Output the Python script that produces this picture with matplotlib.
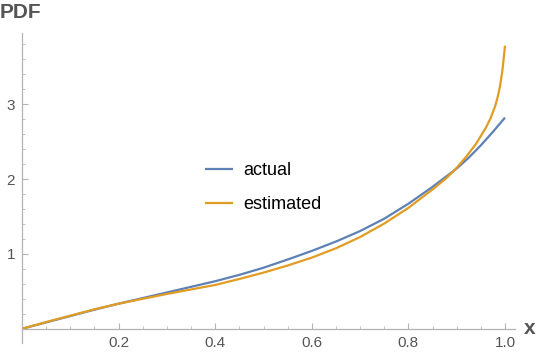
import numpy as np
import matplotlib.pyplot as plt
from matplotlib.ticker import MultipleLocator, FixedLocator

# values
x_actual = [0, 0.05, 0.1, 0.15, 0.2, 0.25, 0.3, 0.35, 0.4, 0.45, 0.5, 0.55, 0.6,
            0.65, 0.7, 0.75, 0.8, 0.85, 0.9, 0.925, 0.95, 0.975, 1.0]
pdf_actual = [0, 0.085, 0.17, 0.255, 0.335, 0.41, 0.485, 0.56, 0.635, 0.72, 0.815,
              0.925, 1.04, 1.165, 1.305, 1.47, 1.67, 1.895, 2.14, 2.285, 2.45, 2.63, 2.82]

x_est = [0, 0.05, 0.1, 0.15, 0.2, 0.25, 0.3, 0.35, 0.4, 0.45, 0.5, 0.55, 0.6, 0.65,
         0.7, 0.75, 0.8, 0.85, 0.88, 0.9, 0.92, 0.94, 0.96, 0.97, 0.98, 0.985, 0.99,
         0.995, 1.0]
pdf_est = [0, 0.09, 0.175, 0.26, 0.335, 0.40, 0.465, 0.525, 0.585, 0.665, 0.75, 0.845,
           0.95, 1.075, 1.225, 1.405, 1.615, 1.86, 2.02, 2.15, 2.30, 2.47, 2.68, 2.81,
           2.98, 3.10, 3.25, 3.47, 3.78]

x_ticks = [0.2, 0.4, 0.6, 0.8, 1.0]
x_tick_labels = ['0.2', '0.4', '0.6', '0.8', '1.0']
y_ticks = [1, 2, 3]
y_tick_labels = ['1', '2', '3']

blue = '#5E81B5'
orange = '#E19C24'
gray = '#b3b3b3'
text_gray = '#555555'

plt.rcParams['font.family'] = ['Liberation Sans', 'DejaVu Sans']

fig = plt.figure(figsize=(5.4, 3.53), dpi=100)
ax = fig.add_axes([22 / 540, 1 - 343 / 353, (1.02 * 483) / 540, (343 - 33) / 353])

ax.plot(x_actual, pdf_actual, color=blue, lw=1.6, label='actual',
        solid_capstyle='butt', solid_joinstyle='round')
ax.plot(x_est, pdf_est, color=orange, lw=1.6, label='estimated',
        solid_capstyle='butt', solid_joinstyle='round')

ax.set_xlim(0, 1.02)
ax.set_ylim(-0.19, 3.95)

for s in ['top', 'right']:
    ax.spines[s].set_visible(False)
ax.spines['left'].set_position(('data', 0))
ax.spines['bottom'].set_position(('data', 0))
for s in ['left', 'bottom']:
    ax.spines[s].set_color(gray)
    ax.spines[s].set_linewidth(0.9)

ax.xaxis.set_major_locator(FixedLocator(x_ticks))
ax.set_xticklabels(x_tick_labels)
ax.xaxis.set_minor_locator(MultipleLocator(0.05))
ax.yaxis.set_major_locator(FixedLocator(y_ticks))
ax.set_yticklabels(y_tick_labels)
ax.yaxis.set_minor_locator(MultipleLocator(0.2))

ax.tick_params(which='major', direction='in', length=4, width=0.8, color=gray,
               labelcolor=text_gray, labelsize=11, pad=5)
ax.tick_params(which='minor', direction='in', length=2.3, width=0.6, color=gray)

ax.patch.set_alpha(0)

# axis labels, Mathematica style
fig.text(0 / 540, 1 - 12 / 353, 'PDF', fontsize=15, fontweight='bold', color=text_gray,
         ha='left', va='center')
fig.text(524 / 540, 1 - 328 / 353, 'x', fontsize=15, fontweight='bold', color=text_gray,
         ha='left', va='center')

leg = fig.legend(loc='upper left', bbox_to_anchor=(205 / 540, 1 - 162 / 353),
                 frameon=False, fontsize=13, handlelength=1.55, handletextpad=0.55,
                 labelspacing=0.95, borderpad=0, borderaxespad=0)

fig.savefig('out.png', dpi=100)
